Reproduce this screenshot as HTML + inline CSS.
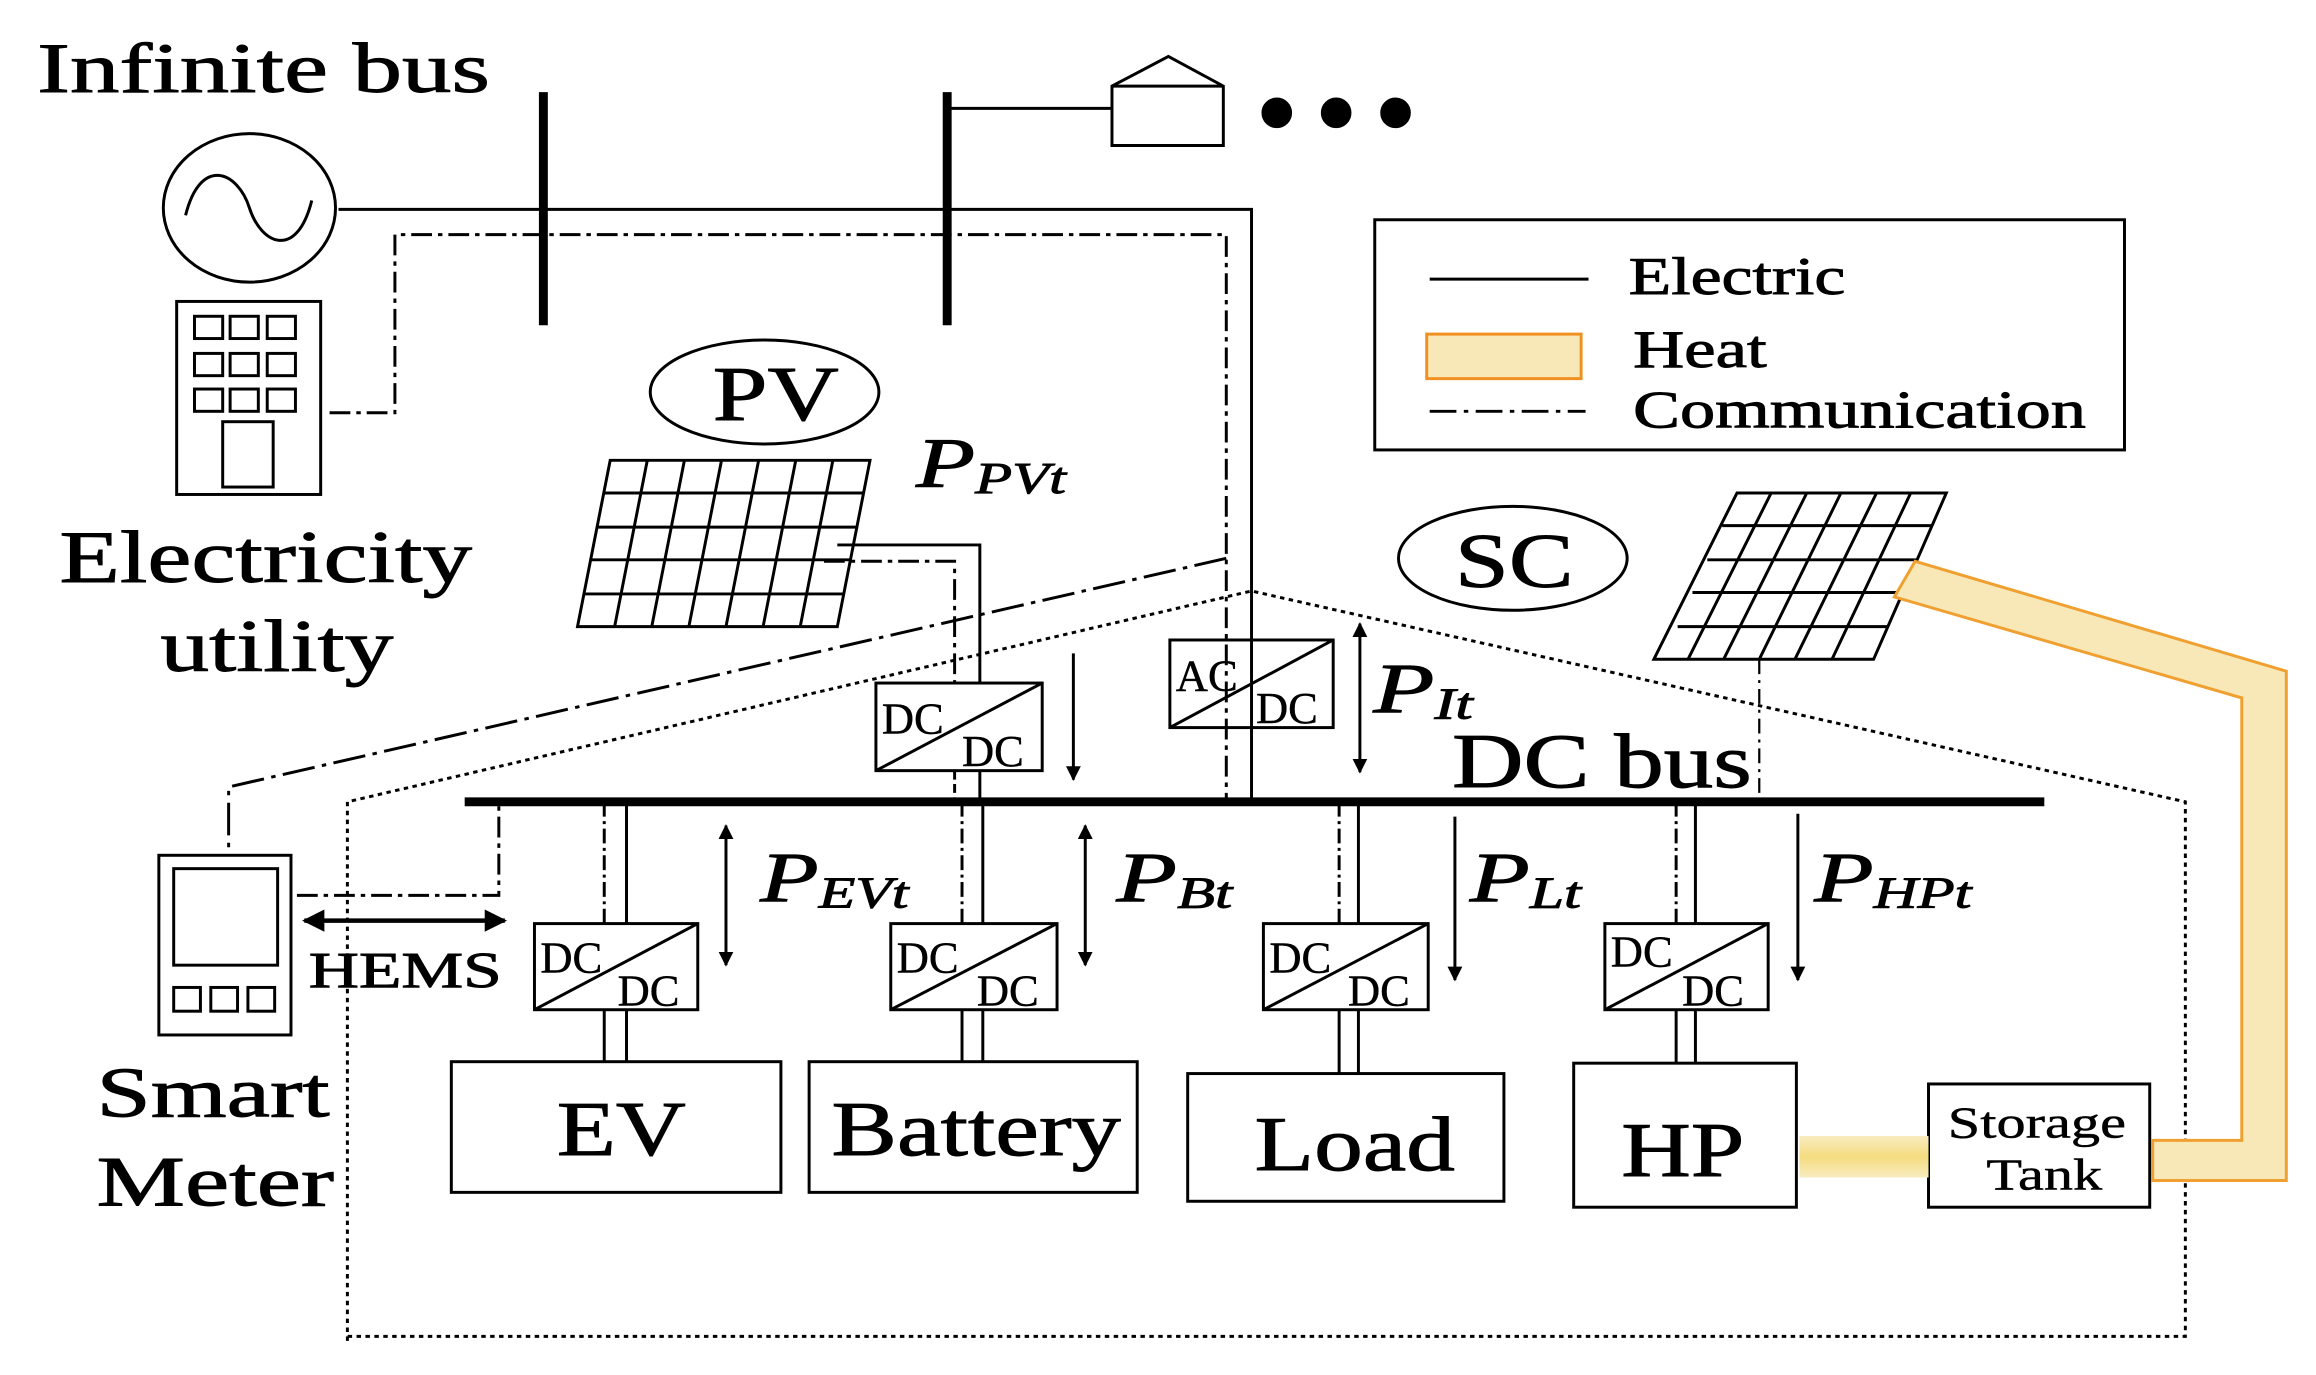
<!DOCTYPE html>
<html><head><meta charset="utf-8"><style>html,body{margin:0;padding:0;background:#fff;}svg{display:block}</style></head>
<body>
<svg width="2316" height="1375" viewBox="0 0 1560 926" preserveAspectRatio="none" xmlns="http://www.w3.org/2000/svg" font-family="Liberation Serif, serif">
<defs>
<marker id="ah" viewBox="0 0 10 10" refX="9" refY="5" markerWidth="5" markerHeight="5" orient="auto-start-reverse"><path d="M0,0 L10,5 L0,10 z" fill="#000"/></marker>
<linearGradient id="hg" x1="0" y1="0" x2="0" y2="1"><stop offset="0" stop-color="#f8ecc0"/><stop offset="0.5" stop-color="#f5dc80"/><stop offset="1" stop-color="#f8ecc0"/></linearGradient>
</defs>
<g fill="none" stroke="#000" stroke-width="2">
<ellipse cx="168" cy="140" rx="58" ry="50"/>
<path d="M125,145 C135,105 160,115 168,140 C176,165 200,175 210,135"/>
<rect x="119" y="203" width="97" height="130"/>
<rect x="131" y="213" width="19" height="15"/><rect x="155" y="213" width="19" height="15"/><rect x="180" y="213" width="19" height="15"/>
<rect x="131" y="238" width="19" height="15"/><rect x="155" y="238" width="19" height="15"/><rect x="180" y="238" width="19" height="15"/>
<rect x="131" y="262" width="19" height="15"/><rect x="155" y="262" width="19" height="15"/><rect x="180" y="262" width="19" height="15"/>
<rect x="150" y="284" width="34" height="44"/>
<line x1="366" y1="62" x2="366" y2="219" stroke-width="6"/>
<line x1="638" y1="62" x2="638" y2="219" stroke-width="6"/>
<line x1="638" y1="73" x2="749" y2="73"/>
<path d="M749,58 L787,38 L824,58 L824,98 L749,98 Z M749,58 L824,58"/>
<path d="M228,141 L843,141 L843,540"/>
<path d="M222,278 L266,278 L266,158 L826,158 L826,540" stroke-dasharray="14,4,3,4"/>
<path d="M826,376 L154,530 L154,575" stroke-dasharray="22,5,3,5"/>
<rect x="926" y="148" width="505" height="155"/>
<line x1="963" y1="188" x2="1070" y2="188"/>
<rect x="961" y="225" width="104" height="30" fill="#f8e8b8" stroke="#f09020"/>
<line x1="963" y1="277" x2="1068" y2="277" stroke-dasharray="18,5,3,5"/>
<ellipse cx="515" cy="264" rx="77" ry="35"/>
<path d="M411,310 L586,310 L564,422 L389,422 Z"/>
<path d="M407,332 L582,332 M402,355 L578,355 M398,377 L573,377 M393,400 L569,400"/>
<path d="M436,310 L414,422 M461,310 L439,422 M486,310 L464,422 M511,310 L489,422 M536,310 L514,422 M561,310 L539,422"/>
<path d="M564,367 L660,367 L660,460"/>
<path d="M555,378 L643,378 L643,460" stroke-dasharray="14,4,3,4"/>
<rect x="590" y="460" width="112" height="59"/><line x1="590" y1="519" x2="702" y2="460"/>
<line x1="643" y1="519" x2="643" y2="540" stroke-dasharray="6,3"/><line x1="660" y1="519" x2="660" y2="540"/>
<line x1="723" y1="440" x2="723" y2="525" marker-end="url(#ah)"/>
<rect x="788" y="431" width="110" height="59"/><line x1="788" y1="490" x2="898" y2="431"/>
<line x1="916" y1="420" x2="916" y2="520" marker-start="url(#ah)" marker-end="url(#ah)"/>
<line x1="313" y1="540" x2="1377" y2="540" stroke-width="6"/>
<ellipse cx="1019" cy="376" rx="77" ry="35"/>
<path d="M1170,332 L1311,332 L1262,444 L1114,444 Z"/>
<path d="M1160,354 L1301,354 M1150,377 L1291,377 M1140,399 L1282,399 M1130,422 L1272,422"/>
<path d="M1193,332 L1137,444 M1217,332 L1161,444 M1240,332 L1185,444 M1264,332 L1209,444 M1287,332 L1234,444"/>
<line x1="1185" y1="444" x2="1185" y2="540" stroke-dasharray="10,4,2,4" stroke-width="1.5"/>
<path d="M234,903 L234,540 L843,398 L1472,540 L1472,900 L234,900" stroke-dasharray="3,3" stroke-width="2"/>
<rect x="107" y="576" width="89" height="121"/>
<rect x="117" y="585" width="70" height="65"/>
<rect x="117" y="665" width="18" height="16"/><rect x="142" y="665" width="18" height="16"/><rect x="167" y="665" width="18" height="16"/>
<path d="M200,603 L336,603 L336,540" stroke-dasharray="14,4,3,4"/>
<line x1="205" y1="620" x2="340" y2="620" stroke-width="3" marker-start="url(#ah)" marker-end="url(#ah)"/>
<g>
<line x1="407" y1="540" x2="407" y2="622" stroke-dasharray="10,3,2,3"/><line x1="422" y1="540" x2="422" y2="622"/>
<rect x="360" y="622" width="110" height="58"/><line x1="360" y1="680" x2="470" y2="622"/>
<line x1="407" y1="680" x2="407" y2="715"/><line x1="422" y1="680" x2="422" y2="715"/>
<rect x="304" y="715" width="222" height="88"/>
<line x1="489" y1="556" x2="489" y2="650" marker-start="url(#ah)" marker-end="url(#ah)"/>
<line x1="648" y1="540" x2="648" y2="622" stroke-dasharray="10,3,2,3"/><line x1="662" y1="540" x2="662" y2="622"/>
<rect x="600" y="622" width="112" height="58"/><line x1="600" y1="680" x2="712" y2="622"/>
<line x1="648" y1="680" x2="648" y2="715"/><line x1="662" y1="680" x2="662" y2="715"/>
<rect x="545" y="715" width="221" height="88"/>
<line x1="731" y1="556" x2="731" y2="650" marker-start="url(#ah)" marker-end="url(#ah)"/>
<line x1="902" y1="540" x2="902" y2="622" stroke-dasharray="10,3,2,3"/><line x1="915" y1="540" x2="915" y2="622"/>
<rect x="851" y="622" width="111" height="58"/><line x1="851" y1="680" x2="962" y2="622"/>
<line x1="902" y1="680" x2="902" y2="723"/><line x1="915" y1="680" x2="915" y2="723"/>
<rect x="800" y="723" width="213" height="86"/>
<line x1="980" y1="550" x2="980" y2="660" marker-end="url(#ah)"/>
<line x1="1129" y1="540" x2="1129" y2="622" stroke-dasharray="10,3,2,3"/><line x1="1142" y1="540" x2="1142" y2="622"/>
<rect x="1081" y="622" width="110" height="58"/><line x1="1081" y1="680" x2="1191" y2="622"/>
<line x1="1129" y1="680" x2="1129" y2="716"/><line x1="1142" y1="680" x2="1142" y2="716"/>
<rect x="1060" y="716" width="150" height="97"/>
<line x1="1211" y1="548" x2="1211" y2="660" marker-end="url(#ah)"/>
<rect x="1299" y="730" width="149" height="83"/>
</g>
</g>
<polygon points="1290,378 1540,452 1540,795 1450,795 1450,768 1510,768 1510,470 1276,402" fill="#f8e8b8" stroke="#f0a030" stroke-width="2"/>
<rect x="1212" y="765" width="87" height="28" fill="url(#hg)"/>
<g fill="#000" stroke="#000" stroke-width="0.6" lengthAdjust="spacingAndGlyphs">
<text x="25" y="62" font-size="48" textLength="305" lengthAdjust="spacingAndGlyphs">Infinite bus</text>
<text x="40" y="392" font-size="50" textLength="278" lengthAdjust="spacingAndGlyphs">Electricity</text>
<text x="108" y="452" font-size="50" textLength="157" lengthAdjust="spacingAndGlyphs">utility</text>
<text x="65" y="752" font-size="48" textLength="157" lengthAdjust="spacingAndGlyphs">Smart</text>
<text x="65" y="812" font-size="48" textLength="160" lengthAdjust="spacingAndGlyphs">Meter</text>
<text x="208" y="665" font-size="34" textLength="130" lengthAdjust="spacingAndGlyphs">HEMS</text>
<text x="1097" y="198" font-size="36" textLength="146" lengthAdjust="spacingAndGlyphs">Electric</text>
<text x="1100" y="247" font-size="36" textLength="90" lengthAdjust="spacingAndGlyphs">Heat</text>
<text x="1100" y="288" font-size="36" textLength="305" lengthAdjust="spacingAndGlyphs">Communication</text>
<text x="480" y="283" font-size="52" textLength="85" lengthAdjust="spacingAndGlyphs">PV</text>
<text x="980" y="395" font-size="52" textLength="80" lengthAdjust="spacingAndGlyphs">SC</text>
<text x="978" y="530" font-size="52" textLength="202" lengthAdjust="spacingAndGlyphs">DC bus</text>
<g font-style="italic">
<text x="617" y="328" font-size="48" textLength="101" lengthAdjust="spacingAndGlyphs">P<tspan font-size="30" dy="4">PVt</tspan></text>
<text x="925" y="480" font-size="48" textLength="67" lengthAdjust="spacingAndGlyphs">P<tspan font-size="30" dy="4">It</tspan></text>
<text x="512" y="607" font-size="48" textLength="100" lengthAdjust="spacingAndGlyphs">P<tspan font-size="30" dy="4">EVt</tspan></text>
<text x="752" y="607" font-size="48" textLength="78" lengthAdjust="spacingAndGlyphs">P<tspan font-size="30" dy="4">Bt</tspan></text>
<text x="990" y="607" font-size="48" textLength="75" lengthAdjust="spacingAndGlyphs">P<tspan font-size="30" dy="4">Lt</tspan></text>
<text x="1222" y="607" font-size="48" textLength="106" lengthAdjust="spacingAndGlyphs">P<tspan font-size="30" dy="4">HPt</tspan></text>
</g>
<g font-size="30" stroke-width="0.3">
<text x="594" y="494">DC</text><text x="648" y="516">DC</text>
<text x="792" y="465">AC</text><text x="846" y="487">DC</text>
<text x="364" y="655">DC</text><text x="416" y="677">DC</text>
<text x="604" y="655">DC</text><text x="658" y="677">DC</text>
<text x="855" y="655">DC</text><text x="908" y="677">DC</text>
<text x="1085" y="651">DC</text><text x="1133" y="677">DC</text>
</g>
<text x="375" y="778" font-size="52" textLength="87" lengthAdjust="spacingAndGlyphs">EV</text>
<text x="560" y="778" font-size="52" textLength="195" lengthAdjust="spacingAndGlyphs">Battery</text>
<text x="845" y="788" font-size="52" textLength="135" lengthAdjust="spacingAndGlyphs">Load</text>
<text x="1092" y="792" font-size="52" textLength="83" lengthAdjust="spacingAndGlyphs">HP</text>
<text x="1312" y="766" font-size="30" textLength="120" lengthAdjust="spacingAndGlyphs" stroke-width="0.3">Storage</text>
<text x="1338" y="801" font-size="30" textLength="78" lengthAdjust="spacingAndGlyphs" stroke-width="0.3">Tank</text>
<circle cx="860" cy="76" r="10"/><circle cx="900" cy="76" r="10"/><circle cx="940" cy="76" r="10"/>
</g>
</svg>
</body></html>
